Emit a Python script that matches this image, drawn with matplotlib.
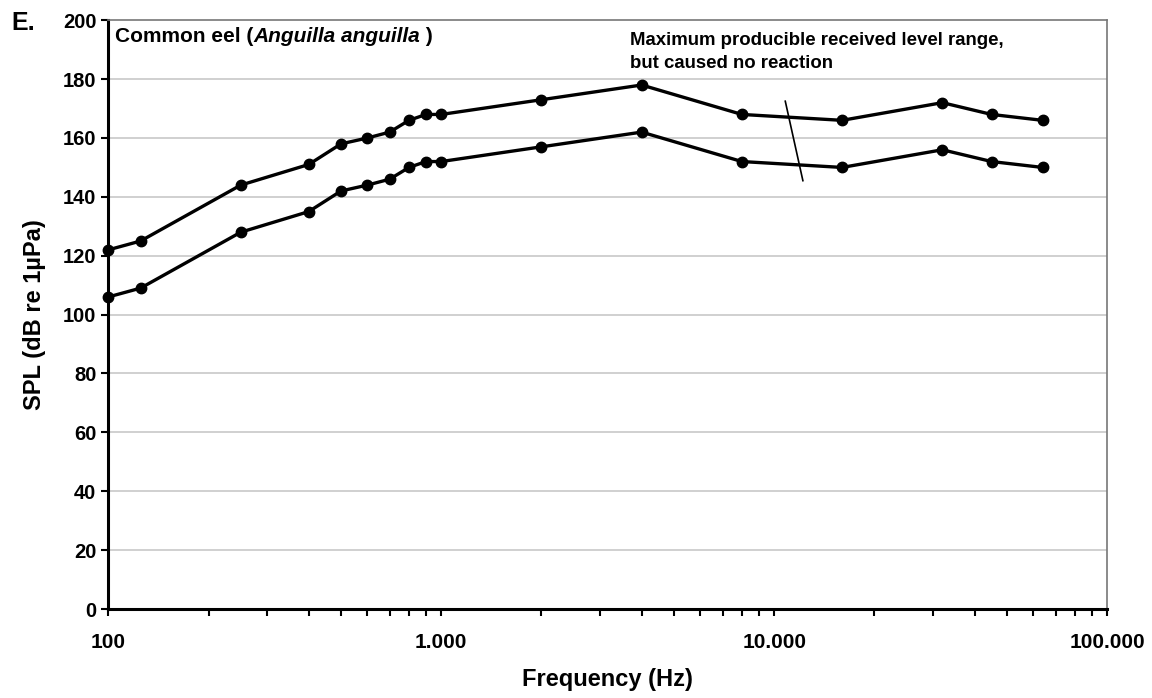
import matplotlib
matplotlib.use("Agg")
import matplotlib.pyplot as plt
from matplotlib.ticker import FixedLocator, LogLocator, NullFormatter

# frequencies (Hz) and levels (dB re 1uPa)
freq = [100, 125, 250, 400, 500, 600, 700, 800, 900, 1000,
        2000, 4000, 8000, 16000, 32000, 45000, 64000]
upper = [122, 125, 144, 151, 158, 160, 162, 166, 168, 168,
         173, 178, 168, 166, 172, 168, 166]
lower = [106, 109, 128, 135, 142, 144, 146, 150, 152, 152,
         157, 162, 152, 150, 156, 152, 150]

x_ticks = [100, 1000, 10000, 100000]
x_labels = ["100", "1.000", "10.000", "100.000"]
y_ticks = list(range(0, 201, 20))

plt.rcParams["font.family"] = ["Liberation Sans", "DejaVu Sans"]

fig = plt.figure(figsize=(11.52, 6.98), dpi=100)
ax = fig.add_axes([0.094, 0.1275, 0.867, 0.8435])

for y in y_ticks[1:-1]:
    ax.axhline(y, color="#c8c8c8", lw=1.2, zorder=1)

for series in (upper, lower):
    ax.plot(freq, series, color="black", lw=2.4, marker="o", ms=7.5, zorder=3,
            clip_on=False)

ax.set_xscale("log")
ax.set_xlim(100, 100000)
ax.set_ylim(0, 200)
ax.xaxis.set_major_locator(FixedLocator(x_ticks))
ax.set_xticklabels(x_labels, fontsize=15, fontweight="bold")
ax.xaxis.set_minor_locator(LogLocator(base=10, subs=range(2, 10)))
ax.xaxis.set_minor_formatter(NullFormatter())
ax.set_yticks(y_ticks)
ax.tick_params(axis="y", labelsize=14.5, width=1.5, length=5, direction="out")
ax.tick_params(axis="x", which="both", width=1.5, length=5, direction="out", pad=12)
for lab in ax.get_yticklabels():
    lab.set_fontweight("bold")

for s in ("left", "bottom"):
    ax.spines[s].set_linewidth(2.2)
for s in ("top", "right"):
    ax.spines[s].set_color("#777777")
    ax.spines[s].set_linewidth(1.2)

ax.set_xlabel("Frequency (Hz)", fontsize=17, fontweight="bold", labelpad=12)
ax.set_ylabel("SPL (dB re 1µPa)", fontsize=17, fontweight="bold", labelpad=12)

# title inside the axes, species name in italics
t0 = ax.text(0.007, 0.988, "Common eel (", transform=ax.transAxes, fontsize=15,
             fontweight="bold", va="top")
t1 = ax.annotate("Anguilla anguilla", xy=(1, 0), xycoords=t0, va="bottom",
                 fontsize=15, fontweight="bold", style="italic")
ax.annotate(" )", xy=(1, 0), xycoords=t1, va="bottom", fontsize=15, fontweight="bold")

ax.text(0.522, 0.98, "Maximum producible received level range,\nbut caused no reaction",
        transform=ax.transAxes, fontsize=13.4, fontweight="bold",
        va="top", linespacing=1.45)
ax.plot([10800, 12200], [172.5, 145.5], color="black", lw=1.2, zorder=2)

fig.text(0.010, 0.957, "E.", fontsize=18, fontweight="bold", va="baseline")

fig.savefig("out.png", dpi=100)
